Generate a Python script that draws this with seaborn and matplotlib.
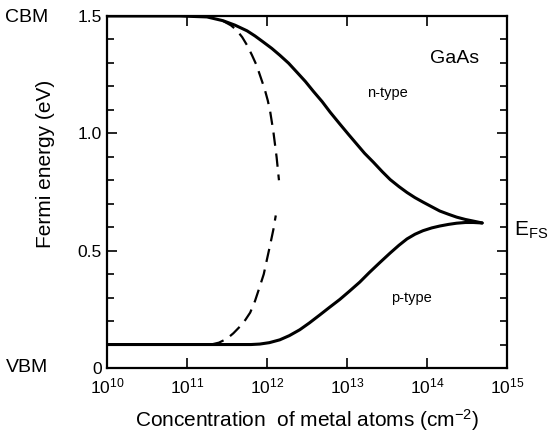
import numpy as np
import pandas as pd
import seaborn as sns
import matplotlib.pyplot as plt
from matplotlib.ticker import FixedLocator, MultipleLocator

# log10 of concentration (cm^-2) and Fermi energy (eV)
n_solid_log = [10.0, 10.91, 11.25, 11.45, 11.6, 11.75, 11.85, 11.95, 12.06, 12.16, 12.27, 12.37,
               12.48, 12.58, 12.69, 12.79, 12.91, 13.02, 13.12, 13.22, 13.33, 13.44, 13.54, 13.65,
               13.75, 13.85, 13.95, 14.06, 14.16, 14.27, 14.37, 14.48, 14.58, 14.69]
n_solid_E = [1.5, 1.5, 1.496, 1.48, 1.461, 1.437, 1.415, 1.39, 1.362, 1.333, 1.299, 1.262,
             1.221, 1.179, 1.135, 1.09, 1.04, 0.995, 0.955, 0.915, 0.877, 0.837, 0.803, 0.773,
             0.748, 0.726, 0.707, 0.687, 0.669, 0.655, 0.643, 0.633, 0.626, 0.618]

p_solid_log = [10.0, 11.66, 11.8, 11.91, 12.03, 12.16, 12.28, 12.41, 12.53, 12.66, 12.78, 12.91,
               13.03, 13.16, 13.28, 13.41, 13.54, 13.65, 13.75, 13.85, 13.95, 14.06, 14.16, 14.27,
               14.37, 14.48, 14.58, 14.69]
p_solid_E = [0.1, 0.1, 0.1, 0.102, 0.108, 0.12, 0.138, 0.163, 0.192, 0.226, 0.258, 0.292,
             0.327, 0.366, 0.407, 0.449, 0.49, 0.523, 0.55, 0.57, 0.585, 0.597, 0.605, 0.612,
             0.617, 0.62, 0.62, 0.618]

n_dash_log = [11.45, 11.55, 11.62, 11.69, 11.75, 11.81, 11.87, 11.92, 11.97, 12.01, 12.04, 12.08, 12.12, 12.15]
n_dash_E = [1.479, 1.46, 1.44, 1.41, 1.376, 1.335, 1.29, 1.24, 1.19, 1.14, 1.093, 1.007, 0.90, 0.80]

p_dash_log = [11.3, 11.4, 11.5, 11.58, 11.66, 11.73, 11.79, 11.85, 11.91, 11.96, 12.0, 12.04, 12.08, 12.11]
p_dash_E = [0.1, 0.108, 0.125, 0.148, 0.176, 0.205, 0.236, 0.285, 0.347, 0.40, 0.463, 0.525, 0.59, 0.65]

decades = [10, 11, 12, 13, 14, 15]

sns.set_style("ticks")
plt.rcParams['font.family'] = ['Liberation Sans', 'DejaVu Sans']
plt.rcParams['mathtext.fontset'] = 'custom'
plt.rcParams['mathtext.rm'] = 'Liberation Sans'
plt.rcParams['mathtext.it'] = 'Liberation Sans'
plt.rcParams['text.color'] = 'black'
plt.rcParams['axes.labelcolor'] = 'black'

fig = plt.figure(figsize=(5.56, 4.43), dpi=100)
ax = fig.add_axes([0.1924, 0.1693, 0.7194, 0.7946])


def curve(logs, energies):
    return pd.DataFrame({"conc": np.power(10.0, logs), "E": energies})


lw = 2.2
dash = (0, (6, 3.5))
sns.lineplot(data=curve(n_solid_log, n_solid_E), x="conc", y="E", ax=ax, color="black", lw=lw, sort=False)
sns.lineplot(data=curve(p_solid_log, p_solid_E), x="conc", y="E", ax=ax, color="black", lw=lw, sort=False)
sns.lineplot(data=curve(n_dash_log, n_dash_E), x="conc", y="E", ax=ax, color="black", lw=1.6,
             sort=False, linestyle=dash)
sns.lineplot(data=curve(p_dash_log, p_dash_E), x="conc", y="E", ax=ax, color="black", lw=1.6,
             sort=False, linestyle=dash)

ax.set_xscale("log")
ax.set_xlim(1e10, 1e15)
ax.set_ylim(0, 1.5)

ax.xaxis.set_major_locator(FixedLocator([10.0 ** d for d in decades]))
ax.xaxis.set_minor_locator(FixedLocator([]))
ax.set_xticklabels([f"$10^{{{d}}}$" for d in decades])
ax.yaxis.set_major_locator(FixedLocator([0, 0.5, 1.0, 1.5]))
ax.set_yticklabels(["0", "0.5", "1.0", "1.5"])
ax.yaxis.set_minor_locator(MultipleLocator(0.1))

ax.tick_params(axis="both", which="both", direction="in", top=True, right=True,
               width=1.2, labelsize=12.5, color="black", labelcolor="black")
ax.tick_params(axis="both", which="major", length=7)
ax.tick_params(axis="y", which="minor", length=5)
ax.tick_params(axis="x", which="major", pad=6)
for s in ax.spines.values():
    s.set_linewidth(1.6)
    s.set_color("black")

ax.set_xlabel("Concentration  of metal atoms (cm$^{-2}$)", fontsize=15, labelpad=8)
ax.set_ylabel("")
fig.text(0.081, 0.63, "Fermi energy (eV)", rotation=90, fontsize=15, ha="center", va="center")

fig.text(0.048, 0.96, "CBM", fontsize=14, ha="center", va="center")
fig.text(0.048, 0.17, "VBM", fontsize=14, ha="center", va="center")
fig.text(0.925, 0.48, "E$_\\mathrm{FS}$", fontsize=15, ha="left", va="center")

ax.text(0.87, 0.88, "GaAs", transform=ax.transAxes, fontsize=14, ha="center", va="center")
ax.text(0.70, 0.78, "n-type", transform=ax.transAxes, fontsize=10.5, ha="center", va="center")
ax.text(0.76, 0.20, "p-type", transform=ax.transAxes, fontsize=10.5, ha="center", va="center")

fig.savefig("out.png", dpi=100)
